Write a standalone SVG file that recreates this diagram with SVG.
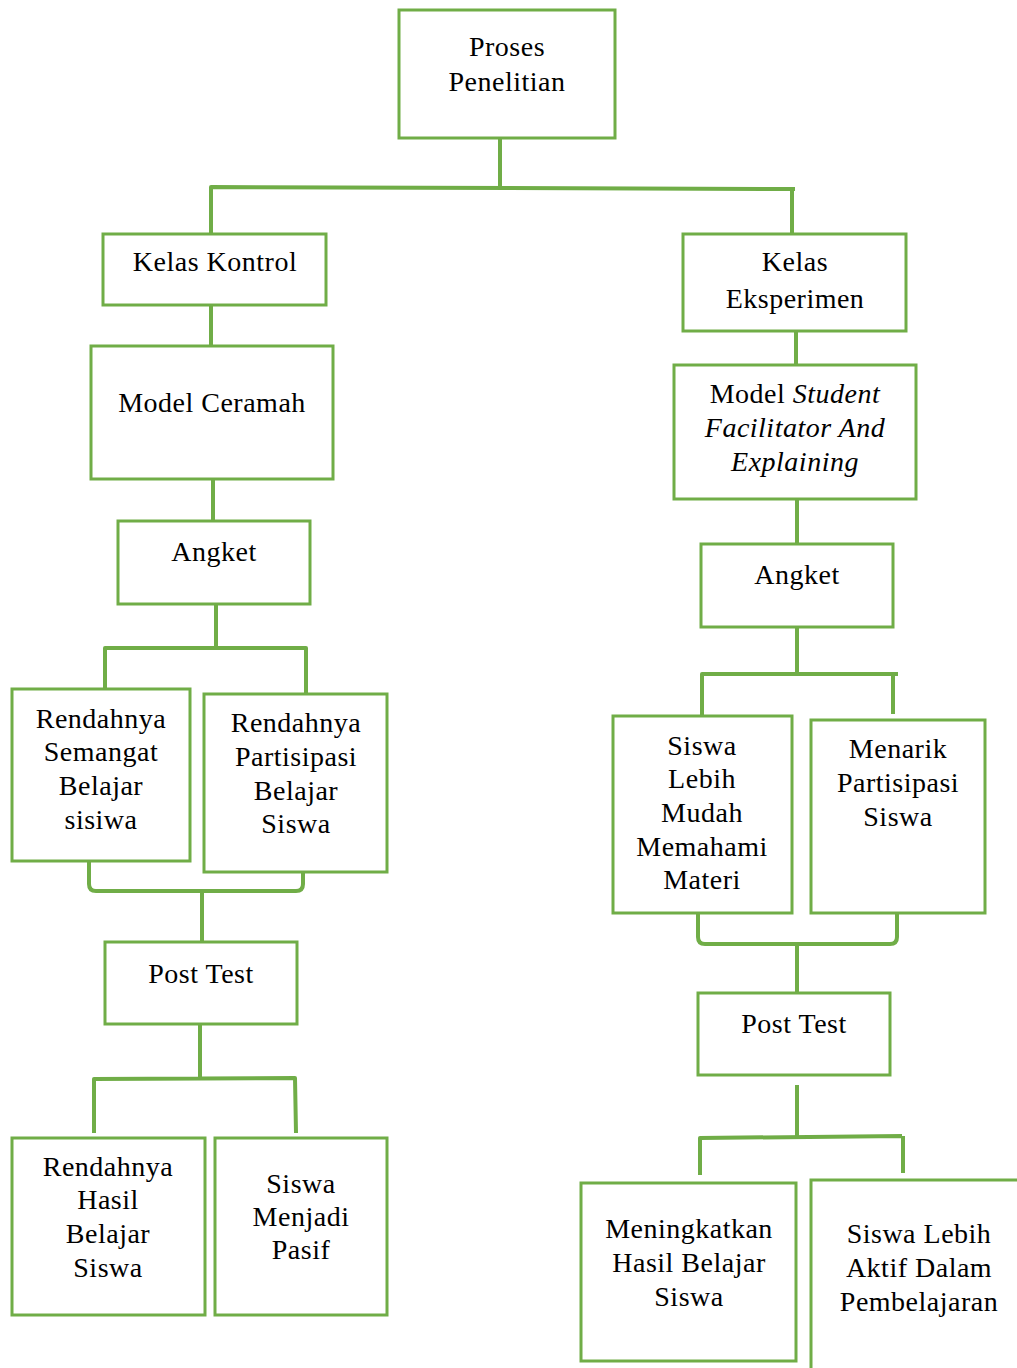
<svg xmlns="http://www.w3.org/2000/svg" width="1017" height="1368" viewBox="0 0 1017 1368">
<style>
.b{fill:#fff;stroke:#70AD47;stroke-width:3}
.c{fill:none;stroke:#70AD47;stroke-width:4;stroke-linejoin:round}
text{font-family:'Liberation Serif','Times New Roman',serif;font-size:28px;letter-spacing:0.5px;fill:#000;text-anchor:middle}
</style>
<rect width="1017" height="1368" fill="#fff"/>
<g id="connectors">
<path class="c" d="M500 138V187M211 234V187L795 189M792 189V234"/>
<path class="c" d="M211 305V346M213 479V521M216 604V648M105 689V648H306V694"/>
<path class="c" d="M89 861V884Q89 891 96 891H296Q303 891 303 884V863M202 891V942"/>
<path class="c" d="M200 1024V1078M94 1133V1079L295 1078L296 1133"/>
<path class="c" d="M796 331V365M797 499V544M797 627V674M702 716V674H898M893 674V714"/>
<path class="c" d="M698 913V937Q698 944 705 944H890Q897 944 897 937V914M797 944V993"/>
<path class="c" d="M797 1085V1137M700 1175V1138L902 1136M903 1136V1173"/>
</g>
<g id="n1"><rect class="b" x="399" y="10" width="216" height="128"/><text x="507" y="56">Proses</text><text x="507" y="91">Penelitian</text></g>
<g id="n2"><rect class="b" x="103" y="234" width="223" height="71"/><text x="215" y="271">Kelas Kontrol</text></g>
<g id="n3"><rect class="b" x="91" y="346" width="242" height="133"/><text x="212" y="412">Model Ceramah</text></g>
<g id="n4"><rect class="b" x="118" y="521" width="192" height="83"/><text x="214" y="561">Angket</text></g>
<g id="n5"><rect class="b" x="12" y="689" width="178" height="172"/><text x="101" y="728">Rendahnya</text><text x="101" y="761">Semangat</text><text x="101" y="795">Belajar</text><text x="101" y="829">sisiwa</text></g>
<g id="n6"><rect class="b" x="204" y="694" width="183" height="178"/><text x="296" y="732">Rendahnya</text><text x="296" y="766">Partisipasi</text><text x="296" y="800">Belajar</text><text x="296" y="833">Siswa</text></g>
<g id="n7"><rect class="b" x="105" y="942" width="192" height="82"/><text x="201" y="983">Post Test</text></g>
<g id="n8"><rect class="b" x="12" y="1138" width="193" height="177"/><text x="108" y="1176">Rendahnya</text><text x="108" y="1209">Hasil</text><text x="108" y="1243">Belajar</text><text x="108" y="1277">Siswa</text></g>
<g id="n9"><rect class="b" x="215" y="1138" width="172" height="177"/><text x="301" y="1193">Siswa</text><text x="301" y="1226">Menjadi</text><text x="301" y="1259">Pasif</text></g>
<g id="n10"><rect class="b" x="683" y="234" width="223" height="97"/><text x="795" y="271">Kelas</text><text x="795" y="308">Eksperimen</text></g>
<g id="n11"><rect class="b" x="674" y="365" width="242" height="134"/><text x="795" y="403">Model <tspan font-style="italic">Student</tspan></text><text x="795" y="437" font-style="italic">Facilitator And</text><text x="795" y="471" font-style="italic">Explaining</text></g>
<g id="n12"><rect class="b" x="701" y="544" width="192" height="83"/><text x="797" y="584">Angket</text></g>
<g id="n13"><rect class="b" x="613" y="716" width="179" height="197"/><text x="702" y="755">Siswa</text><text x="702" y="788">Lebih</text><text x="702" y="822">Mudah</text><text x="702" y="856">Memahami</text><text x="702" y="889">Materi</text></g>
<g id="n14"><rect class="b" x="811" y="720" width="174" height="193"/><text x="898" y="758">Menarik</text><text x="898" y="792">Partisipasi</text><text x="898" y="826">Siswa</text></g>
<g id="n15"><rect class="b" x="698" y="993" width="192" height="82"/><text x="794" y="1033">Post Test</text></g>
<g id="n16"><rect class="b" x="581" y="1183" width="215" height="178"/><text x="689" y="1238">Meningkatkan</text><text x="689" y="1272">Hasil Belajar</text><text x="689" y="1306">Siswa</text></g>
<g id="n17"><rect class="b" x="811" y="1180" width="220" height="200"/><text x="919" y="1243">Siswa Lebih</text><text x="919" y="1277">Aktif Dalam</text><text x="919" y="1311">Pembelajaran</text></g>
</svg>
